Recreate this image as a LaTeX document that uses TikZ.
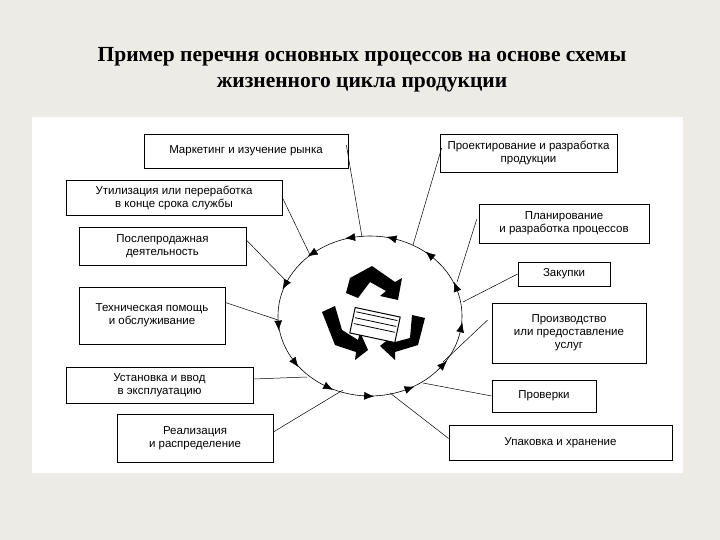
\documentclass[tikz,border=0pt]{standalone}
\usepackage{fontspec}
\setmainfont{Liberation Serif}
\newfontfamily\boxfont{Liberation Sans}
\usetikzlibrary{arrows.meta,decorations.markings}
\definecolor{bg}{HTML}{EDEBE5}
\begin{document}
\begin{tikzpicture}[x=1pt,y=-1pt,
  pbox/.style={draw,line width=0.7pt,inner sep=0pt,font=\boxfont\fontsize{11.5}{13}\selectfont,align=center},
  conn/.style={line width=0.5pt}]
\fill[bg] (0,0) rectangle (720,540);
\useasboundingbox (0,0) rectangle (720,540);
\fill[white] (32,117) rectangle (683,473);
\node[font=\bfseries\fontsize{21.5}{26}\selectfont,align=center] (title) at (362,70) {Пример перечня основных процессов на основе схемы\\жизненного цикла продукции};
% boxes
\node[pbox,minimum width=204,minimum height=34] (b1) at (246,151) {Маркетинг и изучение рынка};
\node[pbox,minimum width=216,minimum height=35] (b2) at (174,197.5) {Утилизация или переработка\\в конце срока службы};
\node[pbox,minimum width=167,minimum height=38] (b3) at (162.5,246) {Послепродажная\\деятельность};
\node[pbox,minimum width=146,minimum height=57] (b4) at (152,315.5) {Техническая помощь\\и обслуживание};
\node[pbox,minimum width=187,minimum height=36] (b5) at (159.5,385) {Установка и ввод\\в эксплуатацию};
\node[pbox,minimum width=156,minimum height=48] (b6) at (195,438) {Реализация\\и распределение};
\node[pbox,minimum width=177,minimum height=38] (b7) at (528.5,153) {Проектирование и разработка\\продукции};
\node[pbox,minimum width=170,minimum height=39] (b8) at (564,223.5) {Планирование\\и разработка процессов};
\node[pbox,minimum width=92,minimum height=24] (b9) at (564,274) {Закупки};
\node[pbox,minimum width=154,minimum height=60] (b10) at (569,333) {Производство\\или предоставление\\услуг};
\node[pbox,minimum width=104,minimum height=32] (b11) at (544,396) {Проверки};
\node[pbox,minimum width=223,minimum height=35] (b12) at (560.5,442.5) {Упаковка и хранение};
% cycle
\coordinate (cc) at (370,316);
\draw[line width=0.6pt,postaction={decorate},decoration={markings,
  mark=between positions 0.03 and 1 step 0.0769 with {\arrow{Latex[reversed,length=10pt,width=8pt]}}}]
  (cc) ellipse [x radius=92, y radius=80];
% connector endpoints
\coordinate (e1) at (362,237);
\coordinate (e2) at (310,255);
\coordinate (e3) at (288,283);
\coordinate (e4) at (278,320);
\coordinate (e5) at (307,377);
\coordinate (e6) at (343,390);
\coordinate (e7) at (413,245);
\coordinate (e8) at (457,282);
\coordinate (e9) at (463,302);
\coordinate (e10) at (443,362);
\coordinate (e11) at (423,383);
\coordinate (e12) at (390,393);
\draw[conn] (b1.east) ++(-2,-6) -- (e1);
\draw[conn] (b2.east) -- (e2);
\draw[conn] (b3.east) ++(0,-6) -- (e3);
\draw[conn] (b4.east) ++(0,-13) -- (e4);
\draw[conn] (b5.east) ++(0,-6) -- (e5);
\draw[conn] (b6.east) ++(0,-6) -- (e6);
\draw[conn] (b7.west) ++(2,-5) -- (e7);
\draw[conn] (b8.west) ++(-2,-4) -- (e8);
\draw[conn] (b9.west) -- (e9);
\draw[conn] (b10.west) ++(-4,-13) -- (e10);
\draw[conn] (b11.west) -- (e11);
\draw[conn] (b12.west) ++(0,-4) -- (e12);
% recycling icon
\fill[black] (350,278) -- (372,266) -- (395,282) -- (402,278) -- (398,300) -- (380,296) -- (386,291) -- (370,282) -- (358,298) -- (346,293) -- cycle;
\fill[black] (425,318) -- (418,345) -- (395,352) -- (395,360) -- (380,346) -- (395,334) -- (395,342) -- (410,338) -- (412,315) -- cycle;
\fill[black] (322,312) -- (335,306) -- (342,330) -- (358,340) -- (360,332) -- (368,350) -- (355,360) -- (356,352) -- (335,345) -- cycle;
\draw[fill=white,line width=1pt,rotate around={-12:(375,325)}] (352,312) rectangle (398,338);
\foreach \i in {0,3,6} {\draw[line width=0.8pt,rotate around={-12:(375,325)}] (354,316+\i*2) -- (396,316+\i*2);}
\end{tikzpicture}
\end{document}
